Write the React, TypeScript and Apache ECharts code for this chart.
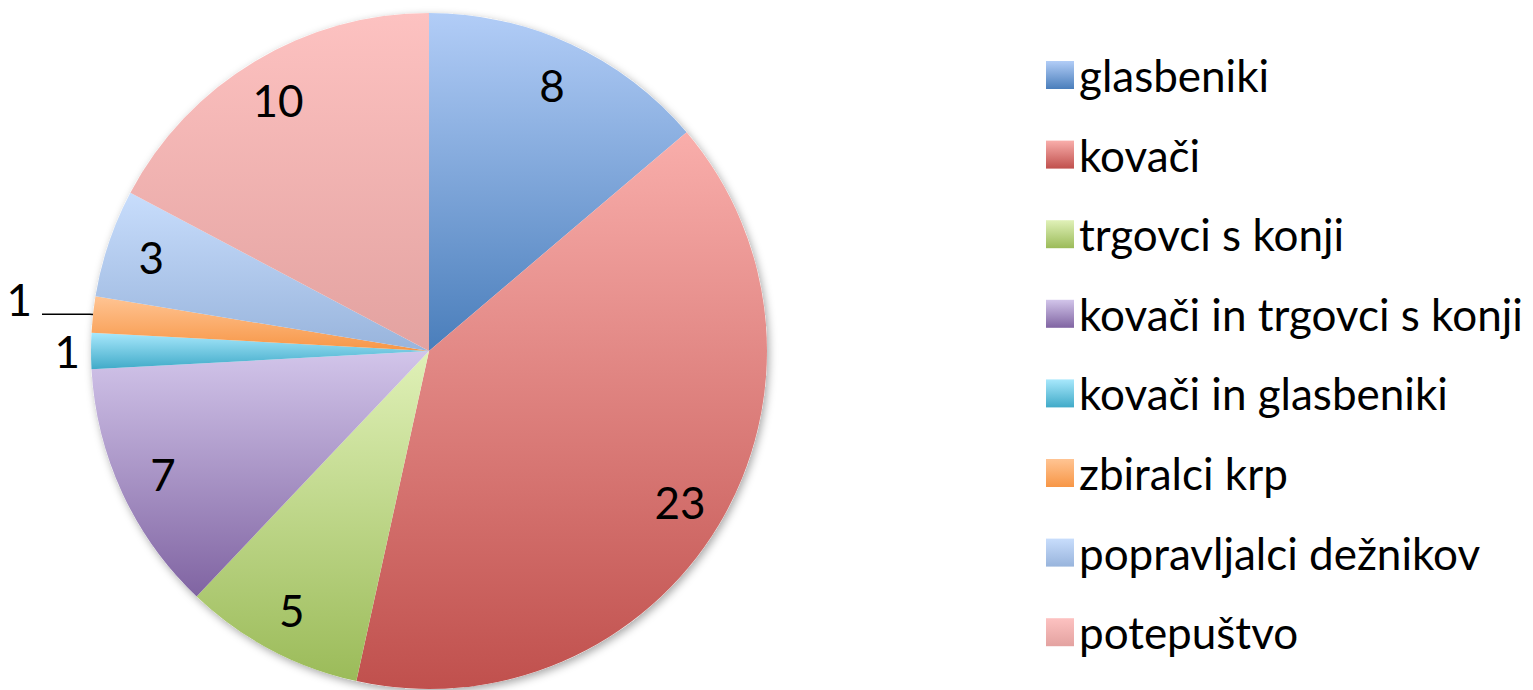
import React, { useEffect, useRef } from "react";
import * as echarts from "echarts";

const categories = [
  "glasbeniki",
  "kovači",
  "trgovci s konji",
  "kovači in trgovci s konji",
  "kovači in glasbeniki",
  "zbiralci krp",
  "popravljalci dežnikov",
  "potepuštvo",
];
const values = [8, 23, 5, 7, 1, 1, 3, 10];
const topColors = ["#b2cdf7", "#f9aeab", "#e0f1b8", "#d2c5ea", "#a8e8fc", "#ffc493", "#c8ddfc", "#fdc2c1"];
const bottomColors = ["#4a7ebb", "#c0504d", "#9bbb59", "#8064a2", "#40aac8", "#f79646", "#98b4dc", "#e3a2a0"];

const FONT = "Lato, 'Open Sans', sans-serif";

function grad(i: number) {
  return new echarts.graphic.LinearGradient(0, 0, 0, 1, [
    { offset: 0, color: topColors[i] },
    { offset: 1, color: bottomColors[i] },
  ]);
}

export default function App() {
  const ref = useRef<HTMLDivElement>(null);
  useEffect(() => {
    if (!ref.current) return;
    const chart = echarts.init(ref.current, null, { renderer: "svg" });
    const center = [429, 351];
    const R = 338;

    const mainData = categories.map((name, i) => {
      const item: any = {
        name,
        value: values[i],
        itemStyle: { color: grad(i) },
        label: { show: false },
        labelLine: { show: false },
      };
      if (name === "kovači in glasbeniki") {
        item.label = { show: true, position: "outside", distanceToLabelLine: 5 };
        item.labelLine = { show: false, length: 2, length2: 4 };
      }
      if (name === "zbiralci krp") {
        item.label = {
          show: true,
          position: "outside",
          distanceToLabelLine: 10,
          formatter: "{c}\n ",
          lineHeight: 30,
        };
        item.labelLine = {
          show: true,
          length: 3,
          length2: 48,
          lineStyle: { color: "#000", width: 1.5 },
        };
      }
      return item;
    });

    const overlayData = categories.map((name, i) => ({
      name,
      value: values[i],
      label: { show: values[i] > 1 },
    }));

    chart.setOption({
      animation: false,
      legend: {
        orient: "vertical",
        left: 1041,
        top: 48,
        itemWidth: 28,
        itemHeight: 28,
        itemGap: 35.6,
        icon: "rect",
        selectedMode: false,
        data: categories,
        textStyle: {
          fontFamily: FONT,
          fontSize: 44,
          lineHeight: 28,
          color: "#000",
          padding: [12, 0, 0, 0],
        },
      },
      series: [
        {
          type: "pie",
          center,
          radius: R,
          silent: true,
          z: 1,
          label: { show: false },
          labelLine: { show: false },
          data: [
            {
              value: 1,
              itemStyle: {
                color: "#fff",
                shadowBlur: 8,
                shadowColor: "rgba(0,0,0,0.35)",
                shadowOffsetX: 2,
                shadowOffsetY: 3,
              },
            },
          ],
        },
        {
          type: "pie",
          name: "main",
          center,
          radius: R,
          startAngle: 90,
          clockwise: true,
          z: 2,
          silent: true,
          avoidLabelOverlap: false,
          itemStyle: { borderWidth: 0 },
          emphasis: { disabled: true },
          label: {
            fontFamily: FONT,
            fontSize: 44,
            color: "#000",
            formatter: "{c}",
          },
          data: mainData,
        },
        {
          type: "pie",
          name: "labels",
          center,
          radius: [242, R],
          startAngle: 90,
          clockwise: true,
          z: 3,
          silent: true,
          avoidLabelOverlap: false,
          itemStyle: { color: "rgba(0,0,0,0)", borderWidth: 0 },
          emphasis: { disabled: true },
          label: {
            position: "inside",
            fontFamily: FONT,
            fontSize: 44,
            color: "#000",
            formatter: "{c}",
          },
          labelLine: { show: false },
          data: overlayData,
        },
      ],
    });
    return () => chart.dispose();
  }, []);
  return (
    <div
      ref={ref}
      style={{ position: "fixed", left: 0, top: 0, width: 1533, height: 690, background: "#fff" }}
    />
  );
}
